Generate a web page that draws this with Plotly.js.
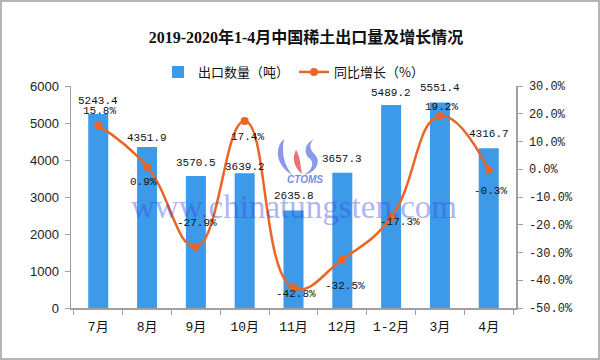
<!DOCTYPE html>
<html>
<head>
<meta charset="utf-8">
<script src="https://cdn.plot.ly/plotly-3.0.1.min.js"></script>
<style>
html,body{margin:0;padding:0;background:#fff;}
#wrap{position:relative;width:600px;height:360px;}
#chart{width:600px;height:360px;}
#frame{position:absolute;left:0;top:0;width:600px;height:360px;box-sizing:border-box;border:2px solid #b4b4b4;pointer-events:none;}
</style>
</head>
<body>
<div id="wrap"><div id="chart"></div><div id="frame"></div></div>
<script>
// ---- data ----
const categories = ["7月","8月","9月","10月","11月","12月","1-2月","3月","4月"];
const exportVolume = [5243.4, 4351.9, 3570.5, 3639.2, 2635.8, 3657.3, 5489.2, 5551.4, 4316.7];
const yoyGrowth = [15.8, 0.9, -27.9, 17.4, -42.8, -32.5, -17.3, 19.2, -0.3];
const rightTickVals = [30, 20, 10, 0, -10, -20, -30, -40, -50];
const rightTickText = ["30.0%","20.0%","10.0%","0.0%","-10.0%","-20.0%","-30.0%","-40.0%","-50.0%"];
const barName = "出口数量（吨）";
const lineName = "同比增长（%）";
const titleText = "2019-2020年1-4月中国稀土出口量及增长情况";

// ---- label placement (styles) ----
const barLabelShift = [13, 9, 13, 6, 14, 14, 12, 15, 14];
const pctShiftX = [1, -4, 1, 3, 2, 3, 9, 2, 2];
const pctShiftY = [14, -15, 24, -16, -6, -27, -5, 9, -21];

const labelFont = {family: "Liberation Mono, monospace", size: 11, color: "#111"};
const annotations = [];
categories.forEach((c, i) => {
  annotations.push({x: c, y: exportVolume[i], xref: "x", yref: "y", text: exportVolume[i].toFixed(1),
    showarrow: false, yshift: barLabelShift[i], font: labelFont});
  annotations.push({x: c, y: yoyGrowth[i], xref: "x", yref: "y2", text: yoyGrowth[i].toFixed(1) + "%",
    showarrow: false, xshift: pctShiftX[i], yshift: pctShiftY[i], font: labelFont});
});
annotations.push({xref: "paper", yref: "paper", x: 0.5, y: 0.456, text: "www.chinatungsten.com",
  showarrow: false, font: {family: "Liberation Serif, serif", size: 33, color: "rgba(55,75,225,0.42)"}});
annotations.push({xref: "paper", yref: "paper", x: 0.526, y: 0.577, text: "<i><b>CTOMS</b></i>",
  showarrow: false, font: {family: "Liberation Sans, sans-serif", size: 10, color: "rgba(70,100,225,0.75)"}});

const logoSvg = '<svg xmlns="http://www.w3.org/2000/svg" width="50" height="40" viewBox="0 0 50 40">' +
  '<path d="M12,2 C1,12 5,30 20,38 C12,28 9,16 12,2 Z" fill="#6f7fe6" fill-opacity="0.8"/>' +
  '<path d="M24,13 C19,22 23,32 30,37 C28,29 29,22 24,13 Z" fill="#e55a5a" fill-opacity="0.85"/>' +
  '<path d="M42,2 C31,8 32,18 38,22 C42,26 41,33 32,38 C45,36 49,24 43,18 C37,12 37,7 42,2 Z" fill="#6f7fe6" fill-opacity="0.8"/>' +
  '</svg>';

const barTrace = {
  type: "bar", name: barName, x: categories, y: exportVolume,
  marker: {color: "#3D9AE8"}, yaxis: "y", hoverinfo: "skip"
};
const lineTrace = {
  type: "scatter", mode: "lines+markers", name: lineName, x: categories, y: yoyGrowth,
  yaxis: "y2", line: {color: "#EA6526", width: 2.5, shape: "spline", smoothing: 1.3},
  marker: {color: "#EA6526", size: 8}, cliponaxis: false, hoverinfo: "skip"
};

const axisLine = "#a0a0a0";
const layout = {
  width: 600, height: 360,
  margin: {l: 71, r: 84, t: 86, b: 52},
  paper_bgcolor: "#fff", plot_bgcolor: "#fff",
  bargap: 0.59,
  showlegend: true,
  title: {text: "<b>" + titleText + "</b>", x: 0.51, xanchor: "center", y: 0.895, yanchor: "middle",
    font: {family: "Liberation Serif, Noto Sans CJK SC, serif", size: 16, color: "#111"}},
  legend: {orientation: "h", x: 0.5, xanchor: "center", y: 1.063, yanchor: "middle",
    font: {family: "Noto Sans CJK SC, sans-serif", size: 13, color: "#111"}, itemgap: 20,
    bgcolor: "rgba(0,0,0,0)"},
  xaxis: {type: "category", tickson: "boundaries", ticks: "outside", ticklen: 5, tickcolor: axisLine,
    showline: true, linecolor: axisLine, linewidth: 1.5, showgrid: false, zeroline: false,
    ticklabelstandoff: 6,
    tickfont: {family: "Liberation Mono, Noto Sans CJK SC, monospace", size: 13, color: "#111"}},
  yaxis: {range: [0, 6000], dtick: 1000, ticks: "outside", ticklen: 5, tickcolor: axisLine,
    showline: true, linecolor: axisLine, linewidth: 1.5, showgrid: false, zeroline: false,
    ticklabelstandoff: 3,
    tickfont: {family: "Liberation Sans, Arial, sans-serif", size: 13, color: "#222"}},
  yaxis2: {overlaying: "y", side: "right", range: [-50, 30], tickvals: rightTickVals, ticktext: rightTickText,
    ticks: "outside", ticklen: 5, tickcolor: axisLine, showline: true, linecolor: axisLine, linewidth: 1.5,
    showgrid: false, zeroline: false, ticklabelstandoff: 4,
    tickfont: {family: "Liberation Mono, monospace", size: 12, color: "#222"}},
  images: [{source: "data:image/svg+xml;charset=utf-8," + encodeURIComponent(logoSvg),
    xref: "paper", yref: "paper", x: 0.452, y: 0.771, sizex: 0.112, sizey: 0.18,
    xanchor: "left", yanchor: "top", sizing: "stretch", layer: "above"}],
  annotations: annotations
};

Plotly.newPlot("chart", [barTrace, lineTrace], layout, {displayModeBar: false, staticPlot: true});
</script>
</body>
</html>
